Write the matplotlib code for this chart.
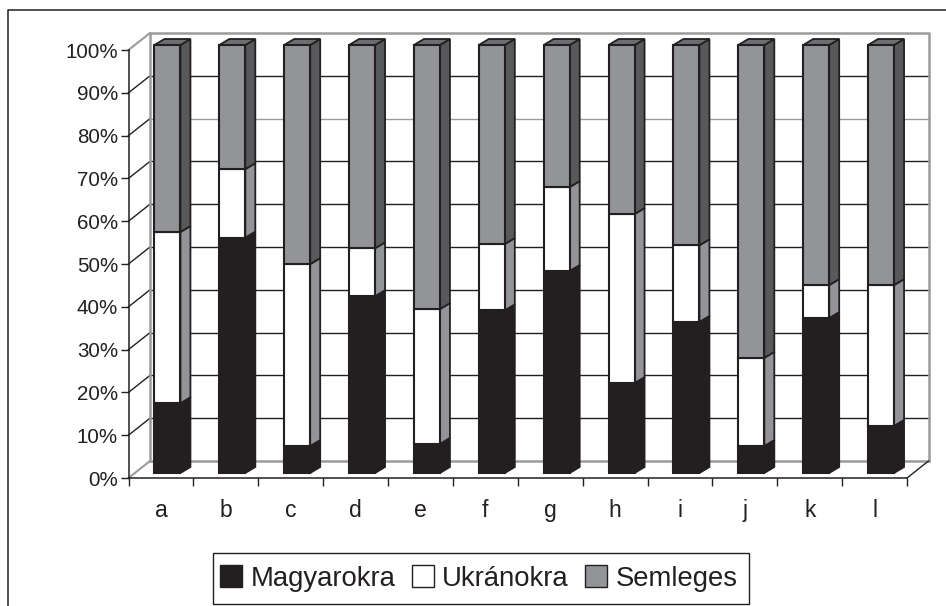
import matplotlib
matplotlib.use('Agg')
import matplotlib.pyplot as plt
from matplotlib.lines import Line2D
from matplotlib.patches import Polygon, Rectangle
from matplotlib.transforms import Affine2D

plt.rcParams['font.family'] = ['Liberation Sans', 'DejaVu Sans']

categories = ['a', 'b', 'c', 'd', 'e', 'f', 'g', 'h', 'i', 'j', 'k', 'l']
magyarokra = [16.3, 55.0, 6.3, 41.3, 6.8, 38.0, 47.2, 21.0, 35.3, 6.3, 36.2, 11.0]
ukranokra = [40.0, 16.0, 42.5, 11.2, 31.5, 15.5, 19.6, 39.5, 17.9, 20.6, 7.7, 32.9]
semleges = [43.7, 29.0, 51.2, 47.5, 61.7, 46.5, 33.2, 39.5, 46.8, 73.1, 56.1, 56.1]
series_names = ['Magyarokra', 'Ukránokra', 'Semleges']
y_ticks = [0, 10, 20, 30, 40, 50, 60, 70, 80, 90, 100]

DARK = '#231f20'
WALL = '#9a9b9d'
# front, side, top colour of each series
colors = [(DARK, DARK, DARK), ('#ffffff', '#929497', '#ffffff'), ('#929497', '#58595b', '#6d6e70')]

W, H = 946, 606
fig = plt.figure(figsize=(W / 100, H / 100), dpi=100)
# outer frame, only top and left are visible in the scan
fig.add_artist(Line2D([8 / W, 8 / W, 1], [0, 1 - 9.5 / H, 1 - 9.5 / H], transform=fig.transFigure,
                      color=DARK, lw=1.1))
ax = fig.add_axes([128.5 / W, (H - 478) / H, 778.5 / W, 428 / H])
ax.set_xlim(0, 12)
ax.set_ylim(0, 100)
ax.patch.set_visible(False)
for s in ['top', 'right']:
    ax.spines[s].set_visible(False)
for s in ['left', 'bottom']:
    ax.spines[s].set_color(DARK)
    ax.spines[s].set_linewidth(1.1)


def shifted(dx, dy):
    return ax.transData + Affine2D().translate(dx, dy)


# pixel offsets of the pseudo 3d depth
wall = shifted(21.5, 17)
front = (6.5, 5)
depth = (10, 6)

# back wall and side wall
for t in y_ticks[1:-1]:
    ax.plot([0, 12], [t, t], color=WALL if t == 80 else DARK, lw=1.0, transform=wall, zorder=1, clip_on=False)
    x0, y0 = ax.transData.transform((0, t))
    ax.plot([x0, x0 + 21.5], [y0, y0 + 17], color=DARK, lw=1.0, transform=None, zorder=1, clip_on=False)
ax.plot([0, 0, 12, 12], [0, 100, 100, 0], color=WALL, lw=1.8, transform=wall, zorder=1, clip_on=False)
ax.plot([0, 12], [0, 0], color=WALL, lw=1.8, transform=wall, zorder=1, clip_on=False)
for corner, col, w in [((0, 0), WALL, 1.5), ((0, 100), WALL, 1.5), ((12, 0), DARK, 1.0)]:
    x0, y0 = ax.transData.transform(corner)
    ax.plot([x0, x0 + 21.5], [y0, y0 + 17], color=col, lw=w, transform=None, zorder=1, clip_on=False)

# bars
bar_w = 26 / 778.5 * 12
bar_t = shifted(*front)
dx_data = depth[0] / 778.5 * 12
dy_data = depth[1] / 428 * 100
for i in range(len(categories)):
    left = i + 0.5 - bar_w / 2
    right = left + bar_w
    bottom = 0
    vals = [magyarokra[i], ukranokra[i], semleges[i]]
    for j, v in enumerate(vals):
        top = bottom + v
        face, side, cap = colors[j]
        ax.add_patch(Polygon([(right, bottom), (right + dx_data, bottom + dy_data),
                              (right + dx_data, top + dy_data), (right, top)],
                             fc=side, ec=DARK, lw=1.3, transform=bar_t, zorder=3, clip_on=False))
        ax.add_patch(Rectangle((left, bottom), bar_w, v, fc=face, ec=DARK, lw=1.5,
                               transform=bar_t, zorder=4, clip_on=False))
        if j == len(vals) - 1:
            ax.add_patch(Polygon([(left, top), (right, top), (right + dx_data, top + dy_data),
                                  (left + dx_data, top + dy_data)],
                                 fc=cap, ec=DARK, lw=1.3, transform=bar_t, zorder=3, clip_on=False))
        bottom = top

ax.set_yticks(y_ticks)
ax.set_yticklabels([f'{t}%' for t in y_ticks], fontsize=14.8, color=DARK)
ax.tick_params(axis='y', length=5.5, width=1.0, color=DARK, pad=2)
ax.set_xticks(range(13))
ax.set_xticklabels([])
ax.tick_params(axis='x', length=5.5, width=1.0, color=DARK)
ax.set_xticks([i + 0.5 for i in range(12)], minor=True)
ax.set_xticklabels(categories, minor=True, fontsize=16.5, color=DARK)
ax.tick_params(axis='x', which='minor', length=0, pad=15)

# legend box drawn apart so the padding can differ from the text spacing
fig.add_artist(Rectangle((213 / W, (H - 604) / H), 536 / W, 51 / H, transform=fig.transFigure,
                         fc='white', ec=DARK, lw=1.0))
handles = [Rectangle((0, 0), 1, 1, fc=c[0], ec=DARK, lw=1.0) for c in colors]
leg = fig.legend(handles, series_names, loc='center', bbox_to_anchor=(479 / W, (H - 578.5) / H),
                 ncol=3, fontsize=19.8, frameon=False,
                 handlelength=0.8, handleheight=0.8, handletextpad=0.3, columnspacing=0.6,
                 borderpad=0, borderaxespad=0, labelcolor=DARK)
leg.set_zorder(5)

fig.savefig('out.png', dpi=100)
